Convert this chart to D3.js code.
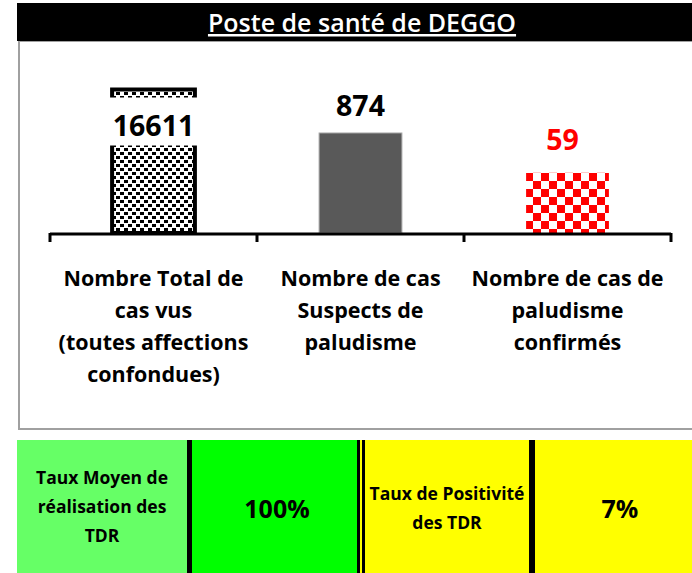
<!DOCTYPE html>
<html>
<head>
<meta charset="utf-8">
<script src="https://cdn.jsdelivr.net/npm/d3@7"></script>
<style>
  body { margin: 0; background: #fff; }
  svg { display: block; font-family: "Open Sans", sans-serif; }
</style>
</head>
<body>
<div id="chart"></div>
<script>
const title = "Poste de santé de DEGGO";
const categories = [
  ["Nombre Total de", "cas vus", "(toutes affections", "confondues)"],
  ["Nombre de cas", "Suspects de", "paludisme"],
  ["Nombre de cas de", "paludisme", "confirmés"]
];
const values = [16611, 874, 59];
const kpiLabels = [["Taux Moyen de", "réalisation des", "TDR"], ["Taux de Positivité", "des TDR"]];
const kpiValues = ["100%", "7%"];

const W = 692, H = 573;
const svg = d3.select("#chart").append("svg")
  .attr("width", W)
  .attr("height", H);

// patterns
const defs = svg.append("defs");
const dots = defs.append("pattern")
  .attr("id", "dots")
  .attr("patternUnits", "userSpaceOnUse")
  .attr("width", 8).attr("height", 8);
dots.append("rect").attr("width", 8).attr("height", 8).attr("fill", "#fff");
dots.append("rect").attr("x", 0).attr("y", 0).attr("width", 4).attr("height", 3).attr("fill", "#000");
dots.append("rect").attr("x", 4).attr("y", 4).attr("width", 4).attr("height", 3).attr("fill", "#000");

const checker = defs.append("pattern")
  .attr("id", "checker")
  .attr("patternUnits", "userSpaceOnUse")
  .attr("x", 525).attr("y", 173)
  .attr("width", 16).attr("height", 16);
checker.append("rect").attr("width", 16).attr("height", 16).attr("fill", "#fff");
checker.append("rect").attr("width", 8).attr("height", 8).attr("fill", "#ff0000");
checker.append("rect").attr("x", 8).attr("y", 8).attr("width", 8).attr("height", 8).attr("fill", "#ff0000");

// chart frame + title bar
svg.append("rect")
  .attr("x", 19).attr("y", 41).attr("width", W).attr("height", 388)
  .attr("fill", "#fff").attr("stroke", "#a0a0a0").attr("stroke-width", 2);
svg.append("rect")
  .attr("x", 17).attr("y", 3).attr("width", W).attr("height", 38)
  .attr("fill", "#000");
svg.append("text")
  .attr("x", 362).attr("y", 32)
  .attr("text-anchor", "middle")
  .attr("fill", "#fff")
  .attr("font-size", 25)
  .attr("font-weight", 600)
  .attr("text-decoration", "underline")
  .text(title);

// scales
const x = d3.scaleBand()
  .domain(d3.range(values.length))
  .range([50, 671])
  .padding(0);
const barW = x.bandwidth() * 0.4;
const y = d3.scaleLog()
  .domain([1, 100000])
  .range([233, 63]);

const fills = ["url(#dots)", "#595959", "url(#checker)"];
const strokes = ["#000", "#a6a6a6", "none"];
const strokeW = [4, 1, 0];

const g = svg.append("g");
g.selectAll("rect.bar")
  .data(values)
  .enter()
  .append("rect")
  .attr("class", "bar")
  .attr("x", (d, i) => x(i) + (x.bandwidth() - barW) / 2)
  .attr("y", d => y(d))
  .attr("width", barW)
  .attr("height", d => y(1) - y(d))
  .attr("fill", (d, i) => fills[i])
  .attr("stroke", (d, i) => strokes[i])
  .attr("stroke-width", (d, i) => strokeW[i]);

// label box on the tall bar (break effect)
g.append("rect")
  .attr("x", x(0) + (x.bandwidth() - barW) / 2 - 5)
  .attr("y", y(values[0]) + 8)
  .attr("width", barW + 10)
  .attr("height", 48)
  .attr("fill", "#fff");

const labelY = [y(values[0]) + 46, y(values[1]) - 17, y(values[2]) - 23];
const labelColors = ["#000", "#000", "#ff0000"];
g.selectAll("text.val")
  .data(values)
  .enter()
  .append("text")
  .attr("class", "val")
  .attr("x", (d, i) => x(i) + x.bandwidth() / 2 + (i === 2 ? -5 : 0))
  .attr("y", (d, i) => labelY[i])
  .attr("text-anchor", "middle")
  .attr("font-size", 28.5)
  .attr("font-weight", 700)
  .attr("fill", (d, i) => labelColors[i])
  .text(d => d);

// axis line and boundary ticks
g.append("line")
  .attr("x1", x.range()[0]).attr("x2", x.range()[1])
  .attr("y1", y(1) + 1).attr("y2", y(1) + 1)
  .attr("stroke", "#000").attr("stroke-width", 3);
const bounds = x.domain().map(i => x(i)).concat([x.range()[1]]);
g.selectAll("line.tick")
  .data(bounds)
  .enter()
  .append("line")
  .attr("x1", d => d).attr("x2", d => d)
  .attr("y1", y(1)).attr("y2", y(1) + 9)
  .attr("stroke", "#000").attr("stroke-width", 3);

// category labels
const cat = g.selectAll("text.cat")
  .data(categories)
  .enter()
  .append("text")
  .attr("class", "cat")
  .attr("text-anchor", "middle")
  .attr("font-size", 21.5)
  .attr("font-weight", 700)
  .attr("fill", "#000");
cat.selectAll("tspan")
  .data((d, i) => d.map(t => ({ t, i })))
  .enter()
  .append("tspan")
  .attr("x", d => x(d.i) + x.bandwidth() / 2)
  .attr("y", (d, j) => 286 + j * 32)
  .text(d => d.t);

// KPI table
const cells = [
  { x0: 17, x1: 187, fill: "#66ff66" },
  { x0: 191, x1: 358, fill: "#00ff00" },
  { x0: 358, x1: 531, fill: "#ffff00" },
  { x0: 531, x1: 700, fill: "#ffff00" }
];
const t = svg.append("g");
t.selectAll("rect.cell")
  .data(cells)
  .enter()
  .append("rect")
  .attr("x", d => d.x0).attr("y", 440)
  .attr("width", d => d.x1 - d.x0).attr("height", H - 440)
  .attr("fill", d => d.fill);
// dividers
t.append("rect").attr("x", 187).attr("y", 440).attr("width", 5).attr("height", H - 440).attr("fill", "#000");
t.append("rect").attr("x", 357).attr("y", 440).attr("width", 3).attr("height", H - 440).attr("fill", "#000");
t.append("rect").attr("x", 362).attr("y", 440).attr("width", 3).attr("height", H - 440).attr("fill", "#000");
t.append("rect").attr("x", 529).attr("y", 440).attr("width", 6).attr("height", H - 440).attr("fill", "#000");

const kpiLabelX = [102, 447];
const kpiLabelY0 = [484, 500];
const kpiLabelSize = [17.5, 17.5];
kpiLabels.forEach((lines, i) => {
  const txt = t.append("text")
    .attr("text-anchor", "middle")
    .attr("font-size", kpiLabelSize[i])
    .attr("font-weight", 700)
    .attr("fill", "#000");
  lines.forEach((l, j) => {
    txt.append("tspan")
      .attr("x", kpiLabelX[i])
      .attr("y", kpiLabelY0[i] + j * 29)
      .text(l);
  });
});
const kpiValueX = [277, 620];
t.selectAll("text.kpiv")
  .data(kpiValues)
  .enter()
  .append("text")
  .attr("class", "kpiv")
  .attr("x", (d, i) => kpiValueX[i])
  .attr("y", 518)
  .attr("text-anchor", "middle")
  .attr("font-size", 25)
  .attr("font-weight", 700)
  .attr("fill", "#000")
  .text(d => d);
</script>
</body>
</html>
